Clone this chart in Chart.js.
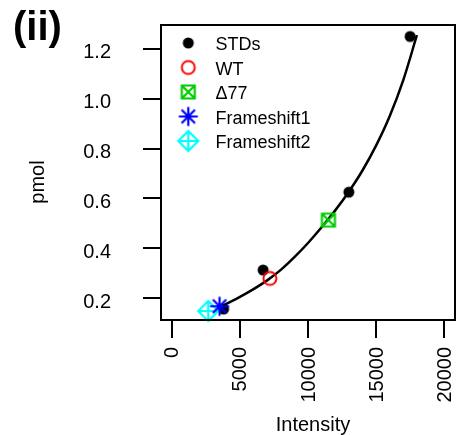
<!DOCTYPE html>
<html>
<head>
<meta charset="utf-8">
<script src="https://cdn.jsdelivr.net/npm/chart.js@4.4.1/dist/chart.umd.min.js"></script>
<style>
  html, body { margin: 0; padding: 0; background: #fff; }
  #wrap { width: 460px; height: 435px; }
</style>
</head>
<body>
<div id="wrap"><canvas id="chart" width="460" height="435"></canvas></div>
<script>
const FONT = "'Liberation Sans', Arial, Helvetica, sans-serif";

// axis ticks
const xTicks = [0, 5000, 10000, 15000, 20000];
const yTicks = [0.2, 0.4, 0.6, 0.8, 1.0, 1.2];

// standards (2-fold dilution series)
const stdIntensity = [3800, 6700, 13000, 17500];
const stdPmol = [0.156, 0.3125, 0.625, 1.25];

// samples
const sampleNames = ['WT', 'Δ77', 'Frameshift1', 'Frameshift2'];
const sampleIntensity = [7200, 11500, 3500, 2670];
const samplePmol = [0.279, 0.513, 0.167, 0.148];

// fitted curve
const fitIntensity = [3400, 4000, 5000, 6000, 7000, 8000, 9000, 10000, 11000, 12000, 13000, 14000, 15000, 16000, 17000, 18000];
const fitPmol = [0.160, 0.177, 0.205, 0.236, 0.271, 0.313, 0.364, 0.421, 0.484, 0.552, 0.627, 0.712, 0.812, 0.930, 1.075, 1.255];

function makeMarker(shape, color) {
  const c = document.createElement('canvas');
  c.width = 26;
  c.height = 26;
  const g = c.getContext('2d');
  const m = 13;
  g.strokeStyle = color;
  g.fillStyle = color;
  g.lineWidth = 2;
  g.beginPath();
  if (shape === 'dot') {
    g.arc(m, m, 5.5, 0, Math.PI * 2);
    g.fill();
    return c;
  }
  if (shape === 'ring') {
    g.arc(m, m, 6.5, 0, Math.PI * 2);
  } else if (shape === 'boxX') {
    g.lineWidth = 2.2;
    g.rect(m - 6.5, m - 6.5, 13, 13);
    g.moveTo(m - 6.5, m - 6.5); g.lineTo(m + 6.5, m + 6.5);
    g.moveTo(m + 6.5, m - 6.5); g.lineTo(m - 6.5, m + 6.5);
  } else if (shape === 'star') {
    g.lineWidth = 2.2;
    for (let k = 0; k < 4; k++) {
      const a = k * Math.PI / 4;
      g.moveTo(m - 9.5 * Math.cos(a), m - 9.5 * Math.sin(a));
      g.lineTo(m + 9.5 * Math.cos(a), m + 9.5 * Math.sin(a));
    }
  } else if (shape === 'diamondPlus') {
    g.lineWidth = 2.2;
    g.moveTo(m, m - 10); g.lineTo(m + 10, m); g.lineTo(m, m + 10); g.lineTo(m - 10, m); g.closePath();
    g.moveTo(m - 10, m); g.lineTo(m + 10, m);
    g.moveTo(m, m - 10); g.lineTo(m, m + 10);
  }
  g.stroke();
  return c;
}

const stdMarker = makeMarker('dot', '#000000');
const sampleMarkers = [
  makeMarker('ring', '#ff0000'),
  makeMarker('boxX', '#00cd00'),
  makeMarker('star', '#0000ff'),
  makeMarker('diamondPlus', '#00ffff')
];
const sampleOrder = [1, 1, 0, 1];

const legendLabels = ['STDs'].concat(sampleNames);
const legendMarkers = [stdMarker].concat(sampleMarkers);

const datasets = [
  {
    label: 'STDs',
    data: stdIntensity.map((x, i) => ({ x, y: stdPmol[i] })),
    pointStyle: stdMarker,
    pointRadius: 6,
    clip: false,
    order: 2
  },
  {
    label: 'fit',
    data: fitIntensity.map((x, i) => ({ x, y: fitPmol[i] })),
    showLine: true,
    borderColor: '#000',
    borderWidth: 2.5,
    pointRadius: 0,
    cubicInterpolationMode: 'monotone',
    fill: false,
    order: 3
  }
];
sampleNames.forEach((name, i) => {
  datasets.push({
    label: name,
    data: [{ x: sampleIntensity[i], y: samplePmol[i] }],
    pointStyle: sampleMarkers[i],
    pointRadius: 8,
    clip: false,
    order: sampleOrder[i]
  });
});

const decorations = {
  id: 'decorations',
  afterDraw(chart) {
    const { ctx, chartArea: a } = chart;
    ctx.save();
    ctx.strokeStyle = '#000';
    ctx.lineWidth = 2;
    ctx.strokeRect(a.left, a.top, a.right - a.left, a.bottom - a.top);

    ctx.fillStyle = '#000';
    ctx.textAlign = 'left';
    ctx.textBaseline = 'alphabetic';
    ctx.font = `bold 40px ${FONT}`;
    ctx.fillText('(ii)', 13, 40);

    ctx.font = `20px ${FONT}`;
    ctx.textAlign = 'center';
    ctx.fillText('Intensity', 313, 431);
    ctx.save();
    ctx.translate(43.5, 182);
    ctx.rotate(-Math.PI / 2);
    ctx.fillText('pmol', 0, 0);
    ctx.restore();

    // legend inside the plot, no frame
    ctx.font = `18px ${FONT}`;
    ctx.textAlign = 'left';
    ctx.textBaseline = 'middle';
    legendLabels.forEach((name, i) => {
      const y = 43 + 24.5 * i;
      const img = legendMarkers[i];
      ctx.drawImage(img, 188.3 - img.width / 2, y - img.height / 2);
      ctx.fillText(name, 215.5, y + 2.5);
    });
    ctx.restore();
  }
};

const tickGrid = {
  display: true,
  drawOnChartArea: false,
  drawTicks: true,
  tickLength: 18,
  color: '#000',
  lineWidth: 2
};

function noOverhang(s) {
  s.paddingTop = 0;
  s.paddingBottom = 0;
  s.paddingLeft = 0;
  s.paddingRight = 0;
}

new Chart(document.getElementById('chart'), {
  type: 'scatter',
  data: { datasets },
  options: {
    responsive: false,
    animation: false,
    devicePixelRatio: 1,
    layout: { autoPadding: false, padding: { top: 25, right: 5, bottom: 0, left: 0 } },
    plugins: {
      legend: { display: false },
      tooltip: { enabled: false }
    },
    scales: {
      x: {
        type: 'linear',
        min: -800,
        max: 20800,
        afterBuildTicks: s => { s.ticks = xTicks.map(v => ({ value: v })); },
        afterFit: s => { s.height = 115; noOverhang(s); },
        grid: tickGrid,
        border: { display: false },
        ticks: {
          autoSkip: false,
          minRotation: 90,
          maxRotation: 90,
          padding: 9,
          labelOffset: 1,
          color: '#000',
          font: { family: FONT, size: 20 },
          callback: v => String(v)
        }
      },
      y: {
        type: 'linear',
        min: 0.112,
        max: 1.296,
        afterBuildTicks: s => { s.ticks = yTicks.map(v => ({ value: v })); },
        afterFit: s => { s.width = 161; noOverhang(s); },
        grid: tickGrid,
        border: { display: false },
        ticks: {
          padding: 32,
          labelOffset: 4,
          color: '#000',
          font: { family: FONT, size: 20 },
          callback: v => v.toFixed(1)
        }
      }
    }
  },
  plugins: [decorations]
});
</script>
</body>
</html>
